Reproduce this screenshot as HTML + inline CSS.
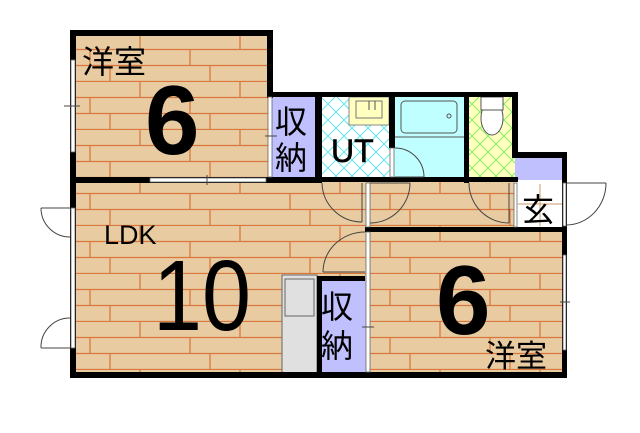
<!DOCTYPE html>
<html><head><meta charset="utf-8"><style>
html,body{margin:0;padding:0;background:#fff;width:640px;height:433px;overflow:hidden}
svg{display:block}
text{font-family:"Liberation Sans","Noto Sans CJK JP",sans-serif;fill:#000}
</style></head><body>
<svg width="640" height="433" viewBox="0 0 640 433" xmlns="http://www.w3.org/2000/svg">
<defs>
<pattern id="wood" x="0" y="34" width="200" height="48" patternUnits="userSpaceOnUse">
<rect width="200" height="48" fill="#e8cba0"/>
<g stroke="#d8783c" stroke-width="1.3">
<line x1="0" y1="15.5" x2="200" y2="15.5"/>
<line x1="0" y1="31.5" x2="200" y2="31.5"/>
<line x1="0" y1="47.5" x2="200" y2="47.5"/>
<line x1="40" y1="0" x2="40" y2="15"/><line x1="140" y1="0" x2="140" y2="15"/>
<line x1="90" y1="16" x2="90" y2="31"/><line x1="190" y1="16" x2="190" y2="31"/>
<line x1="10" y1="32" x2="10" y2="47"/><line x1="110" y1="32" x2="110" y2="47"/>
</g>
</pattern>
<pattern id="cyan" width="16" height="16" patternUnits="userSpaceOnUse">
<rect width="16" height="16" fill="#fff"/>
<path d="M0 0L16 16M16 0L0 16" stroke="#66e8f0" stroke-width="1"/>
</pattern>
<pattern id="green" width="16" height="16" patternUnits="userSpaceOnUse">
<rect width="16" height="16" fill="#ffffc0"/>
<path d="M0 0L16 16M16 0L0 16" stroke="#88ee66" stroke-width="1"/>
</pattern>
</defs>

<rect x="73" y="33" width="197" height="147" fill="url(#wood)"/>
<rect x="73" y="180" width="295" height="196" fill="url(#wood)"/>
<rect x="368" y="180" width="146" height="50" fill="url(#wood)"/>
<rect x="368" y="230" width="197" height="146" fill="url(#wood)"/>
<rect x="272" y="95" width="45" height="85" fill="#c0c0ff"/>
<rect x="320" y="95" width="72" height="85" fill="url(#cyan)"/>
<rect x="392" y="95" width="75" height="85" fill="#c0ffff"/>
<rect x="467" y="95" width="48" height="85" fill="url(#green)"/>
<rect x="515" y="155" width="49" height="25" fill="#c0c0ff"/>
<rect x="515" y="180" width="49" height="48" fill="#fff"/>
<rect x="320" y="278" width="48" height="97" fill="#c0c0ff"/>
<rect x="282" y="275" width="35" height="99" fill="#e0e0e0" stroke="#666" stroke-width="1"/>
<rect x="285" y="279" width="29" height="37" fill="#e0e0e0" stroke="#666" stroke-width="1"/>

<rect x="349" y="97" width="40" height="28" fill="#ffffc0" stroke="#888" stroke-width="1"/>
<rect x="356" y="101" width="26" height="17" fill="none" stroke="#777" stroke-width="1"/>
<line x1="369" y1="101" x2="369" y2="110" stroke="#555"/><line x1="375" y1="101" x2="375" y2="110" stroke="#555"/>
<rect x="401" y="101" width="56" height="32" rx="4" fill="none" stroke="#555" stroke-width="1"/>
<circle cx="449" cy="116" r="2" fill="none" stroke="#555"/>
<line x1="395" y1="137" x2="465" y2="137" stroke="#555"/>
<ellipse cx="492" cy="118" rx="11" ry="17" fill="#fff" stroke="#555"/>
<rect x="481" y="97" width="22" height="13" fill="#fff" stroke="#555"/>
<g stroke="#c96" stroke-width="1"><line x1="518" y1="204" x2="562" y2="204"/><line x1="540" y1="184" x2="540" y2="226"/></g>

<g fill="#000">
<rect x="70" y="30" width="202" height="6"/>
<rect x="267" y="30" width="6" height="68"/>
<rect x="267" y="92" width="251" height="5"/>
<rect x="70" y="30" width="6" height="348"/>
<rect x="70" y="372" width="297" height="6"/>
<rect x="365" y="372" width="202" height="6"/>
<rect x="562" y="152" width="5" height="226"/>
<rect x="512" y="92" width="6" height="66"/>
<rect x="512" y="152" width="55" height="6"/>
<rect x="70" y="177" width="252" height="6"/>
<rect x="315" y="92" width="7" height="91"/>
<rect x="389" y="92" width="6" height="56"/>
<rect x="464" y="92" width="5" height="91"/>
<rect x="322" y="177" width="196" height="5"/>
<rect x="365" y="227" width="202" height="5"/>
<rect x="317" y="276" width="48" height="5"/>
<rect x="317" y="276" width="5" height="100"/>
</g>
<g fill="#fff" stroke="#666" stroke-width="0.8">
<rect x="71" y="60" width="4" height="92"/>
<rect x="71" y="208" width="4" height="140"/>
<rect x="150" y="178" width="116" height="4"/>
<rect x="268" y="97" width="4" height="80"/>
<rect x="563" y="255" width="3" height="95"/>
<rect x="563" y="183" width="3" height="43"/>
<rect x="390" y="148" width="4" height="29"/>
<rect x="366" y="183" width="4" height="44"/>
<rect x="366" y="232" width="4" height="140"/>
<rect x="514" y="183" width="3" height="44"/>
</g>
<g fill="none" stroke="#444" stroke-width="1">
<path d="M362 183V222M322 183A40 40 0 0 0 362 222"/>
<path d="M370 183H410M410 183A40 40 0 0 1 370 223"/>
<path d="M323 272H365M365 232A42 40 0 0 0 323 272"/>
<path d="M509 183V223M469 183A40 40 0 0 0 509 223"/>
<path d="M395 177H424M395 148A29 29 0 0 1 424 177"/>
<path d="M567 183H606M606 183A40 42 0 0 1 566 225"/>
<path d="M70 208H41M41 208A29 29 0 0 0 70 237"/>
<path d="M70 348H41M41 348A29 29 0 0 1 70 318"/>
<line x1="207" y1="175" x2="207" y2="185"/>
<line x1="64" y1="106" x2="80" y2="106"/>
<line x1="265" y1="136" x2="277" y2="136"/>
<line x1="362" y1="327" x2="374" y2="327"/>
<line x1="560" y1="302" x2="570" y2="302"/>
</g>

<text x="82" y="73" font-size="32">洋室</text>
<text x="145" y="154" font-size="98" font-weight="bold">6</text>
<text x="275" y="133" font-size="32">収</text>
<text x="275" y="169" font-size="32">納</text>
<text x="331" y="162" font-size="32" stroke="#000" stroke-width="0.6">UT</text>
<text x="104" y="244" font-size="27">LDK</text>
<text x="153" y="330" font-size="100" textLength="98" lengthAdjust="spacingAndGlyphs">10</text>
<text x="321" y="318" font-size="32">収</text>
<text x="321" y="357" font-size="32">納</text>
<text x="436" y="334" font-size="98" font-weight="bold">6</text>
<text x="485" y="367" font-size="31">洋室</text>
<text x="522" y="221" font-size="32">玄</text>
</svg>
</body></html>
